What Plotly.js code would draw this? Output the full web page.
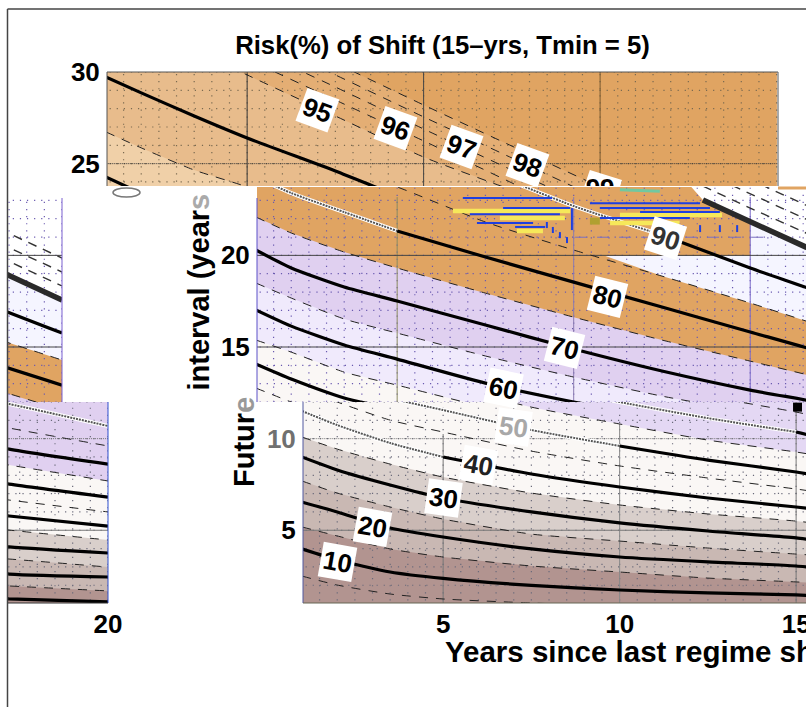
<!DOCTYPE html>
<html><head><meta charset="utf-8">
<script src="https://cdn.plot.ly/plotly-3.0.1.min.js"></script>
<style>html,body{margin:0;padding:0;background:#fff;overflow:hidden}#c{width:806px;height:707px}</style>
</head><body><div id="c"></div>
<script>
// Years since last regime shift (x) at which each contour was read
const xYears=[1,2,3.5,5,7.5,10,12.5,15,17.2,20];
// Solid contours: future interval (y) for each risk level
const risk10=[3.98,3.38,2.72,2.37,1.99,1.74,1.58,1.47,1.25,1.09];
const risk20=[6.54,6.00,5.12,4.63,3.98,3.54,3.27,3.05,2.61,2.45];
const risk30=[9.00,8.29,7.47,6.76,6.00,5.40,4.96,4.58,4.09,3.76];
const risk40=[11.51,10.74,9.76,9.00,8.07,7.36,6.76,6.27,5.78,5.23];
const risk50=[14.07,13.25,12.22,11.56,10.47,9.60,8.83,8.18,7.52,6.81];
const risk60=[17.02,16.14,15.11,14.34,13.03,12.00,11.12,10.36,9.43,8.61];
const risk70=[20.29,19.31,18.27,17.51,16.20,14.89,13.69,12.65,11.89,10.69];
const risk80=[24.27,23.40,22.36,21.33,19.91,18.54,17.18,15.82,14.62,12.92];
const risk90=[29.73,28.86,27.60,26.40,24.60,22.69,21.11,19.31,17.83,15.76];
// Dashed contours
const risk5=[2.50,2.01,1.52,1.25,1.03,0.87,0.8,0.7,0.6,0.5];
const risk15=[5.18,4.69,3.98,3.54,3.05,2.72,2.39,2.18,1.96,1.69];
const risk25=[7.69,7.03,6.27,5.61,4.79,4.41,4.03,3.70,3.43,2.99];
const risk35=[10.09,9.43,8.61,7.90,7.03,6.38,5.89,5.50,5.01,4.47];
const risk45=[12.76,12.00,11.01,10.36,9.32,8.51,7.85,7.25,6.65,6.00];
const risk55=[15.38,14.72,13.63,12.92,11.72,10.80,9.92,9.27,8.56,7.69];
const risk65=[18.49,17.67,16.53,15.76,14.51,13.36,12.32,11.45,10.58,9.60];
const risk75=[22.09,21.22,20.18,19.31,17.94,16.63,15.38,14.23,13.20,11.56];
const risk85=[26.73,25.86,24.65,23.73,21.82,20.29,18.87,17.40,16.03,14.29];
const risk95=[33.44,32.51,31.20,29.84,27.60,25.36,23.56,21.82,19.85,17.56];
const risk96=[34.37,33.44,32.07,30.71,28.47,26.24,23.95,21.65,19.8,17.5];
const risk97=[35.02,34.15,32.78,31.42,29.18,26.89,24.65,22.42,20.56,18.22];
const risk98=[35.68,34.80,33.44,32.07,29.84,27.55,25.31,23.07,21.16,18.87];
const risk99=[36.33,35.46,34.09,32.73,30.49,28.20,25.96,23.73,21.82,19.47];
// Displaced upper contours seen in the middle strip
const shiftedX=[13.66,15,16.58,18.47,20];
const shifted95=[23.02,21.82,20.45,18.93,17.56];
const shifted96=[23.78,22.58,21.22,19.69,18.33];
const shifted97=[24.54,23.35,21.98,20.45,19.09];
const shifted98=[25.31,24.11,22.74,21.22,19.85];
// Pale patch in the middle strip
const paleX=[10.9,12.5,15,17.2,20,20,18.47,16.58,15,15,10.9];
const paleY=[19.97,18.87,17.40,16.03,14.29,17.56,18.93,20.45,21.82,19.97,19.97];
// Streaks in the middle strip: x0, x1, y0, y1
const blueStreaks=[[6.86,9.39,23.13,23.13],[8.0,9.9,22.58,22.58],[7.06,9.61,22.25,22.25],[7.26,8.85,21.76,21.76],[8.34,9.19,21.55,21.55],
 [10.74,13.86,22.58,22.58],[11.88,14.14,22.36,22.36],[10.74,13.29,22.04,22.04],[10.46,13.58,22.85,22.85],[9.95,9.95,22.58,21.38],
 [9.24,9.24,21.82,21.49],[9.41,9.41,21.55,21.22],[9.61,9.61,21.27,20.94],[9.81,9.81,21.0,20.67],
 [13.1,13.1,21.65,21.27],[13.58,13.58,21.65,21.27],[14.14,14.14,21.65,21.27],[14.63,14.63,21.65,21.27]];
const yellowStreaks=[[6.58,9.9,22.42,22.42],[7.91,9.75,22.04,22.04],[8.39,9.13,21.33,21.33],[11.31,14.2,22.2,22.2],[11.03,13.0,21.76,21.76]];
// Axis tick lists
const majorX=[5,10,15];
const tickTop=[30,25], tickMid=[20,15], tickLow=[10,5];
const labels=[['95','x',6.98,27.93,20,'#000'],['96','x',9.19,26.95,20,'#000'],['97','x',11.08,25.91,20,'#000'],['98','x',12.93,24.93,20,'#000'],
 ['90','x2',12.59,20.94,18,'#333'],['80','x2',10.97,17.73,14,'#000'],['70','x2',9.75,14.94,14,'#000'],['60','x2',8.0,12.76,12,'#000'],
 ['50','x4',6.98,10.63,8,'#a8a8a8'],['40','x4',6.01,8.56,10,'#222'],['30','x4',5.0,6.76,8,'#000'],['20','x4',3.01,5.18,10,'#000'],['10','x4',2.02,3.27,10,'#000']];

const W=806,H=707,FONT='"Liberation Sans",Arial,sans-serif';
const fx=p=>p/W, fy=p=>1-p/H;
const ORANGE='#e0a462',LAV='#e0d0f0',LAV2='#f0eafc',CREAM='#faf7f5';
const lowBands=[[risk15,'#c9b8b3'],[risk25,'#d9cfcb'],[risk35,CREAM]];
const midBands=[[risk15,'#c9b8b3'],[risk25,'#d9cfcb'],[risk35,CREAM],[risk55,LAV2],[risk65,LAV],[risk75,ORANGE]];
const tiles=[
 {s:'',px:[107,778],p:[72,186],xr:[1.03,20.04],yr:[23.78,30],base:'#f0d0a8',
  bands:[[risk85,'#e8bc8c'],[risk95,'#e4ae74'],[risk99,ORANGE]],
  solid:[risk80,risk90],dash:[risk85,risk95,risk96,risk97,risk98,risk99],
  yt:tickTop,xt:[],vc:['#333','#444','#7a5a30'],hy:[25],hc:'#333',hd:['1px,1px'],dot:'#7a6a50',vfrom:[30,30,30]},
 {s:'2',px:[257,806],p:[187,402],xr:[1.03,16.58],yr:[12,23.73],base:'#b29490',mid:true,
  bands:midBands,solid:[risk50,risk60,risk70],dash:[risk45,risk55,risk65,risk75,risk85],
  ghost:[[risk80,5],[risk90,12.5]],
  yt:tickMid,xt:[],vc:['#8a8a60','#8a7ab0','#7a6ac8'],hy:[20,15],hc:'#444',hd:['solid','solid'],dot:'#6a5ab0',vfrom:[23.18,23.18,23.18]},
 {s:'3',px:[8,62],p:[198,402],xr:[18.47,20],yr:[12,23.13],base:'#b29490',mid:true,
  bands:midBands,solid:[risk70,risk80,risk90],dash:[risk75,risk85],
  yt:[],xt:[],vc:['#888','#888','#888'],hy:[20,15],hc:'#444',hd:['solid','solid'],dot:'#6a5ab0',vfrom:[23,23,23]},
 {s:'4',px:[303,806],p:[402,603],xr:[1.03,15.28],yr:[1.03,12],base:'#b29490',
  bands:lowBands.concat([[risk55,'#e4d8f4']]),solid:[risk10,risk20,risk30,risk70],dash:[risk5,risk15,risk25,risk35,risk45,risk55,risk65],
  ghost:[[risk40,5],[risk50,10],[risk60,15]],
  yt:tickLow,xt:majorX,vc:['#777','#888','#777'],hy:[10,5],hc:'#777',hd:['1px,1px','solid'],dot:'#6a6a7a',vfrom:[10.25,10.8,11.56]},
 {s:'5',px:[8,108],p:[402,603],xr:[17.17,20],yr:[1.03,12],base:'#b29490',
  bands:lowBands.concat([[risk55,LAV]]),solid:[risk10,risk20,risk30,risk40,risk50,risk60],dash:[risk5,risk15,risk25,risk35,risk45,risk55,risk65],
  ghost:[[risk70,20]],
  yt:[],xt:[20],vc:['#777','#777','#777'],hy:[10,5],hc:'#777',hd:['1px,1px','solid'],dot:'#6a6a7a',vfrom:[11,11,11]}
];
const traces=[];
function add(t,s,o){traces.push(Object.assign({type:'scatter',mode:'lines',xaxis:'x'+s,yaxis:'y'+s,hoverinfo:'skip',showlegend:false},o));}
function poly(t,s,x,y,color){add(t,s,{x,y,fill:'toself',fillcolor:color,line:{width:0},mode:'none'});}
function seg(list){const x=[],y=[];list.forEach(r=>{x.push(r[0],r[1],null);y.push(r[2],r[3],null);});return{x,y};}
const mins=[];for(let i=2;i<=40;i++)mins.push(i/2);
const minsY=[];for(let i=1;i<=30;i++)minsY.push(i);
tiles.forEach(t=>{
 const s=t.s;
 poly(t,s,[1,20,20,1],[0,0,40,40],t.base);
 t.bands.forEach(b=>poly(t,s,xYears.concat([20,1]),b[0].concat([40,40]),b[1]));
 if(t.mid){
  poly(t,s,paleX,paleY,'#f5f5ff');
  poly(t,s,[13.3].concat(shiftedX,[20,13.3]),[23.8].concat(shifted95,[30,30]),'#ffffff');
 }
 const dv=seg(mins.map(v=>[v,v,0,30])),dh=seg(minsY.map(v=>[0.5,20,v,v]));
 add(t,s,{x:dv.x.concat(dh.x),y:dv.y.concat(dh.y),line:{color:t.dot,width:1.2,dash:'1.2px,5.9px'}});
 majorX.forEach((v,i)=>add(t,s,{x:[v,v],y:[0,t.vfrom[i]],line:{color:t.vc[i],width:1}}));
 t.hy.forEach((v,i)=>add(t,s,{x:[0.5,20.5],y:[v,v],line:{color:t.hc,width:1,dash:t.hd[i]}}));
 t.dash.forEach(c=>add(t,s,{x:xYears,y:c,line:{color:'#222',width:1,dash:'9px,8px',shape:'spline',smoothing:0.6}}));
 t.solid.forEach(c=>add(t,s,{x:xYears,y:c,line:{color:'#000',width:3.2,shape:'spline',smoothing:0.6}}));
 (t.ghost||[]).forEach(g=>{
  const x0=[],y0=[],x1=[],y1=[];
  xYears.forEach((v,i)=>{if(v<=g[1]){x0.push(v);y0.push(g[0][i]);} if(v>=g[1]){x1.push(v);y1.push(g[0][i]);}});
  add(t,s,{x:x0,y:y0,line:{color:'#ffffff',width:4,shape:'spline',smoothing:0.6}});
  add(t,s,{x:x0,y:y0,line:{color:'#555',width:2,dash:'2px,1px',shape:'spline',smoothing:0.6}});
  if(x1.length>1)add(t,s,{x:x1,y:y1,line:{color:'#000',width:3.2,shape:'spline',smoothing:0.6}});
 });
 if(t.mid){
  [shifted96,shifted97,shifted98].forEach(c=>add(t,s,{x:shiftedX,y:c,line:{color:'#333',width:1.4,dash:'9px,7px'}}));
  add(t,s,{x:shiftedX,y:shifted95,line:{color:'#2a2a2a',width:5.5}});
 }
});
const by=seg(yellowStreaks),bb=seg(blueStreaks);
add(null,'2',{x:by.x,y:by.y,line:{color:'#f6e85a',width:4.5}});
add(null,'2',{x:bb.x,y:bb.y,line:{color:'#1e3fe0',width:2}});
add(null,'2',{x:[10.46,10.74],y:[21.87,21.87],line:{color:'#b0a030',width:7}});
add(null,'2',{x:[10.04,15.56],y:[20.99,20.99],line:{color:'#7a70c0',width:1,dash:'12px,10px'}});
add(null,'2',{x:[11.31,12.44],y:[23.58,23.5],line:{color:'#70c8a0',width:3}});
add(null,'4',{x:[15.04],y:[11.72],mode:'markers',marker:{symbol:'square',size:9,color:'#000'}});
poly(null,'',[14.71,15.62,15.33,14.37],[24.65,24.11,22.2,22.74],'#fff');
add(null,'',{x:[15.0],y:[23.55],mode:'text',text:['99'],textposition:'middle center',cliponaxis:true,textfont:{family:FONT,size:26,color:'#000',weight:'bold'}});

const layout={width:W,height:H,margin:{l:0,r:0,t:0,b:0},paper_bgcolor:'#fff',plot_bgcolor:'rgba(0,0,0,0)',showlegend:false,
 font:{family:FONT,color:'#000'},
 title:{text:'Risk(%) of Shift (15\u2013yrs, Tmin = 5)',x:442.5/W,y:fy(45),xanchor:'center',yanchor:'middle',font:{family:FONT,size:25.7,weight:'bold',color:'#000'}},
 shapes:[],annotations:[]};
const tickText=v=>v===10?'<span style="color:#707070">10</span>':String(v);
tiles.forEach(t=>{
 layout['xaxis'+t.s]={domain:[fx(t.px[0]),fx(t.px[1])],range:t.xr,anchor:'y'+t.s,showgrid:false,zeroline:false,showline:false,ticklabeloverflow:'allow',
  tickmode:'array',tickvals:t.xt,ticktext:t.xt.map(String),ticks:'',ticklabelstandoff:3,tickfont:{family:FONT,size:26,weight:'bold',color:'#000'}};
 layout['yaxis'+t.s]={domain:[fy(t.p[1]),fy(t.p[0])],range:t.yr,anchor:'x'+t.s,showgrid:false,zeroline:false,showline:false,ticklabeloverflow:'allow',
  tickmode:'array',tickvals:t.yt,ticktext:t.yt.map(tickText),ticks:t.yt.length?'outside':'',ticklen:1,tickcolor:'rgba(0,0,0,0)',tickfont:{family:FONT,size:26,weight:'bold',color:'#000'}};
});
function line(x0,p0,x1,p1,color,w){layout.shapes.push({type:'line',xref:'paper',yref:'paper',x0:fx(x0),x1:fx(x1),y0:fy(p0),y1:fy(p1),line:{color,width:w||1}});}
line(7.5,9,806,9,'#444',1.5);line(7.5,9,7.5,707,'#444',1.5);
line(107,72,778,72,'#555');line(778,72,778,186,'#555');line(107,72,107,186,'#555');
line(257,198,257,402,'#5a50c8');line(62,198,62,402,'#7a60d0');
line(303,402,303,603,'#5058a0');line(108,402,108,603,'#3050d0');
line(303,603,806,603,'#665');line(8,603,108,603,'#333');
line(778,188,806,188,ORANGE,3);
layout.shapes.push({type:'circle',xref:'paper',yref:'paper',x0:fx(113),x1:fx(140),y0:fy(197),y1:fy(188),line:{color:'#777',width:1.5},fillcolor:'#fff'});
labels.forEach(l=>layout.annotations.push({text:'<b>'+l[0]+'</b>',xref:l[1],yref:l[1].replace('x','y'),x:l[2],y:l[3],showarrow:false,textangle:l[4],
 bgcolor:'#fff',borderpad:2,font:{family:FONT,size:26,color:l[5]}}));
function txt(text,px,p,size,angle,xa,ya){layout.annotations.push({text,xref:'paper',yref:'paper',x:fx(px),y:fy(p),showarrow:false,textangle:angle,xanchor:xa,yanchor:ya,font:{family:FONT,size,color:'#000'}});}
txt('<b>interval (year<span style="color:#aaa">s</span></b>',198,393,29,-90,'center','bottom');
txt('<b>Futur<span style="color:#999">e</span></b>',244,489,29,-90,'center','bottom');
txt('<b>Years since last regime shift</b>',443,651,29.5,0,'left','middle');
Plotly.newPlot('c',traces,layout,{staticPlot:true,displayModeBar:false});
</script></body></html>
